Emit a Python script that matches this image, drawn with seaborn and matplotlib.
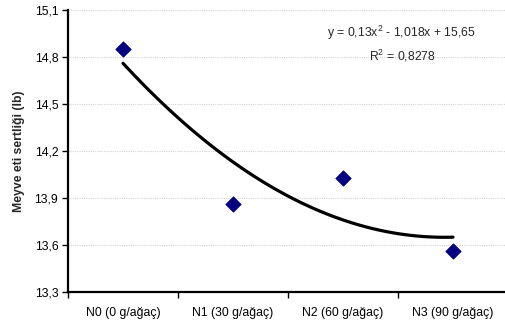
import matplotlib
matplotlib.use("Agg")
import matplotlib.pyplot as plt
import seaborn as sns
import pandas as pd
from matplotlib.ticker import FixedLocator, NullFormatter, FuncFormatter

categories = ["N0 (0 g/ağaç)", "N1 (30 g/ağaç)", "N2 (60 g/ağaç)", "N3 (90 g/ağaç)"]
values = [14.85, 13.86, 14.03, 13.56]
y_ticks = [13.3, 13.6, 13.9, 14.2, 14.5, 14.8, 15.1]
equation_text = "y = 0,13x$^{2}$ - 1,018x + 15,65"
r2_text = "R$^{2}$ = 0,8278"
y_label = "Meyve eti sertliği (lb)"

sns.set_style("white")
plt.rcParams['font.family'] = ['Liberation Sans', 'DejaVu Sans']
plt.rcParams['mathtext.fontset'] = 'custom'
plt.rcParams['mathtext.rm'] = 'Liberation Sans'

FS = 8.8

df = pd.DataFrame({"x": list(range(len(categories))), "y": values})

fig = plt.figure(figsize=(5.05, 3.26), dpi=100)
ax = fig.add_axes([68/505, 34/326, 440/505, 282/326])

sns.regplot(data=df, x="x", y="y", order=2, ci=None, scatter=False,
            line_kws=dict(color="black", lw=2.3), ax=ax)
sns.scatterplot(data=df, x="x", y="y", marker="D", s=62, color="#000080",
                edgecolor="#000080", linewidth=0.5, ax=ax, zorder=5)

ax.set_xlim(-0.5, 3.5)
ax.set_ylim(13.3, 15.1)
ax.set_yticks(y_ticks)
ax.yaxis.set_major_formatter(FuncFormatter(lambda v, p: f"{v:.1f}".replace(".", ",")))
ax.xaxis.set_major_locator(FixedLocator([-0.5, 0.5, 1.5, 2.5, 3.5]))
ax.xaxis.set_major_formatter(NullFormatter())
ax.xaxis.set_minor_locator(FixedLocator(list(range(len(categories)))))
ax.set_xticklabels(categories, minor=True)
ax.tick_params(axis="x", which="minor", length=0, pad=11, labelsize=FS, labelcolor="black")
ax.tick_params(axis="x", which="major", length=4, width=1, direction="out", bottom=True, color="black")
ax.tick_params(axis="y", length=4, width=1, direction="out", left=True, labelsize=FS,
               color="black", pad=3, labelcolor="black")

ax.grid(axis="y", color="#d4d4d4", linestyle=(0, (1, 1)), linewidth=0.8)
ax.set_axisbelow(True)
for s in ["top", "right"]:
    ax.spines[s].set_visible(False)
for s in ["left", "bottom"]:
    ax.spines[s].set_color("black")
    ax.spines[s].set_linewidth(1.6)

ax.set_xlabel("")
ax.set_ylabel(y_label, fontsize=FS, fontweight="bold", labelpad=7)

ax.text(402/505, (326-33)/326, equation_text, transform=fig.transFigure,
        ha="center", va="center", fontsize=FS)
ax.text(402/505, (326-56)/326, r2_text, transform=fig.transFigure,
        ha="center", va="center", fontsize=FS)

fig.savefig("out.png", dpi=100)
